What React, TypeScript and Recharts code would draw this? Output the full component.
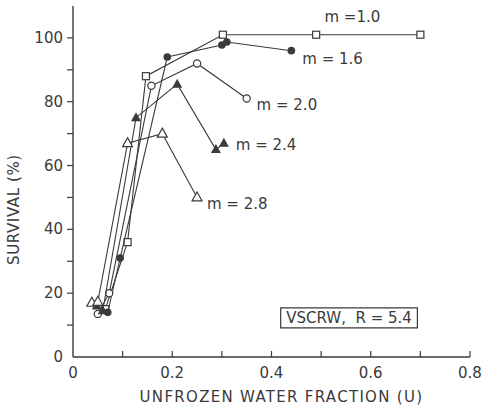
import {
  ScatterChart,
  Scatter,
  XAxis,
  YAxis,
  ReferenceDot,
  ReferenceArea,
} from 'recharts'

// unfrozen water fraction (U) and survival (%) per curve
const U_M10 = [0.065, 0.11, 0.147, 0.302, 0.49, 0.7]
const S_M10 = [15, 36, 88, 101, 101, 101]

const U_M16 = [0.07, 0.095, 0.19, 0.3, 0.31, 0.44]
const S_M16 = [14, 31, 94, 97.8, 98.7, 96]

const U_M20 = [0.05, 0.073, 0.158, 0.25, 0.35]
const S_M20 = [13.5, 20, 85, 92, 81]

const U_M24 = [0.048, 0.06, 0.127, 0.21, 0.288, 0.304]
const S_M24 = [16, 14.5, 75, 85.5, 65, 67]

const U_M28 = [0.038, 0.05, 0.11, 0.18, 0.25]
const S_M28 = [17, 17.3, 67, 70, 50]

const X_TICKS = [0, 0.1, 0.2, 0.3, 0.4, 0.5, 0.6, 0.7, 0.8]
const Y_TICKS = [0, 10, 20, 30, 40, 50, 60, 70, 80, 90, 100]

const CURVE_LABELS = [
  { text: 'm =1.0', u: 0.563, s: 106.5, anchor: 'middle' },
  { text: 'm = 1.6', u: 0.462, s: 93.5, anchor: 'start' },
  { text: 'm = 2.0', u: 0.37, s: 79, anchor: 'start' },
  { text: 'm = 2.4', u: 0.328, s: 66.5, anchor: 'start' },
  { text: 'm = 2.8', u: 0.27, s: 48, anchor: 'start' },
]

const toRows = (u: number[], s: number[]) => u.map((x, i) => ({ u: x, s: s[i] }))

const INK = '#3a3a3a'
const FONT = '"DejaVu Sans", sans-serif'

const OpenSquare = ({ cx, cy }: any) => (
  <rect x={cx - 3.5} y={cy - 3.5} width={7} height={7} fill="#fff" stroke={INK} strokeWidth={1.2} />
)
const FilledCircle = ({ cx, cy }: any) => <circle cx={cx} cy={cy} r={3.8} fill={INK} />
const OpenCircle = ({ cx, cy }: any) => (
  <circle cx={cx} cy={cy} r={3.6} fill="#fff" stroke={INK} strokeWidth={1.2} />
)
const FilledTriangle = ({ cx, cy }: any) => (
  <path d={`M${cx},${cy - 5.5}L${cx + 5},${cy + 3.5}L${cx - 5},${cy + 3.5}Z`} fill={INK} />
)
const OpenTriangle = ({ cx, cy }: any) => (
  <path
    d={`M${cx},${cy - 5.5}L${cx + 5},${cy + 3.5}L${cx - 5},${cy + 3.5}Z`}
    fill="#fff"
    stroke={INK}
    strokeWidth={1.2}
  />
)

const XTick = ({ x, y, payload }: any) => {
  const v = payload.value
  const major = Math.round(v * 10) % 2 === 0
  return (
    <g>
      {v > 0 && <line x1={x} y1={y} x2={x} y2={y - 6} stroke={INK} strokeWidth={1.2} />}
      {major && (
        <text x={x} y={y + 21} textAnchor="middle" fontSize={15} fill={INK} fontFamily={FONT}>
          {v === 0 ? '0' : v.toFixed(1)}
        </text>
      )}
    </g>
  )
}

const YTick = ({ x, y, payload }: any) => {
  const v = payload.value
  const major = v % 20 === 0
  return (
    <g>
      {v > 0 && <line x1={x - 6} y1={y} x2={x} y2={y} stroke={INK} strokeWidth={1.2} />}
      {major && (
        <text x={x - 10} y={y + 5} textAnchor="end" fontSize={15} fill={INK} fontFamily={FONT}>
          {v}
        </text>
      )}
    </g>
  )
}

const YTitle = ({ viewBox }: any) => {
  const cx = viewBox.x + 14
  const cy = viewBox.y + viewBox.height * 0.58
  return (
    <text
      x={cx}
      y={cy}
      transform={`rotate(-90 ${cx} ${cy})`}
      textAnchor="middle"
      dominantBaseline="central"
      fontSize={15}
      letterSpacing={0.6}
      fill={INK}
      fontFamily={FONT}
    >
      SURVIVAL (%)
    </text>
  )
}

const XTitle = ({ viewBox }: any) => (
  <text
    x={viewBox.x + viewBox.width / 2 + 10}
    y={viewBox.y + viewBox.height - 12}
    textAnchor="middle"
    fontSize={15}
    letterSpacing={1.3}
    fill={INK}
    fontFamily={FONT}
  >
    UNFROZEN WATER FRACTION (U)
  </text>
)

const lineStyle = { stroke: INK, strokeWidth: 1.1 }

export default function App() {
  return (
    <div style={{ position: 'absolute', left: 0, top: 0, background: '#fff' }}>
      <ScatterChart width={489} height={414} margin={{ top: 6, right: 19, bottom: 0, left: 0 }}>
        <XAxis
          type="number"
          dataKey="u"
          domain={[0, 0.8]}
          ticks={X_TICKS}
          tick={<XTick />}
          tickLine={false}
          tickSize={0}
          tickMargin={0}
          height={57}
          stroke={INK}
          strokeWidth={1.4}
          label={{ content: <XTitle /> }}
        />
        <YAxis
          type="number"
          dataKey="s"
          domain={[0, 110]}
          ticks={Y_TICKS}
          tick={<YTick />}
          tickLine={false}
          tickSize={0}
          tickMargin={0}
          width={73}
          stroke={INK}
          strokeWidth={1.4}
          label={{ content: <YTitle /> }}
        />
        <Scatter data={toRows(U_M10, S_M10)} line={lineStyle} shape={<OpenSquare />} isAnimationActive={false} />
        <Scatter data={toRows(U_M16, S_M16)} line={lineStyle} shape={<FilledCircle />} isAnimationActive={false} />
        <Scatter data={toRows(U_M20, S_M20)} line={lineStyle} shape={<OpenCircle />} isAnimationActive={false} />
        <Scatter data={toRows(U_M24, S_M24)} line={lineStyle} shape={<FilledTriangle />} isAnimationActive={false} />
        <Scatter data={toRows(U_M28, S_M28)} line={lineStyle} shape={<OpenTriangle />} isAnimationActive={false} />
        {CURVE_LABELS.map((l) => (
          <ReferenceDot
            key={l.text}
            x={l.u}
            y={l.s}
            r={0}
            shape={(p: any) => (
              <text x={p.cx} y={p.cy + 5} textAnchor={l.anchor} fontSize={15} fill={INK} fontFamily={FONT}>
                {l.text}
              </text>
            )}
          />
        ))}
        <ReferenceArea
          x1={0.4185}
          x2={0.694}
          y1={9.1}
          y2={15.4}
          fill="none"
          stroke={INK}
          strokeWidth={1.2}
          label={{ value: 'VSCRW,\u00a0\u00a0R = 5.4', fontSize: 15, fill: INK, fontFamily: FONT }}
        />
      </ScatterChart>
    </div>
  )
}
